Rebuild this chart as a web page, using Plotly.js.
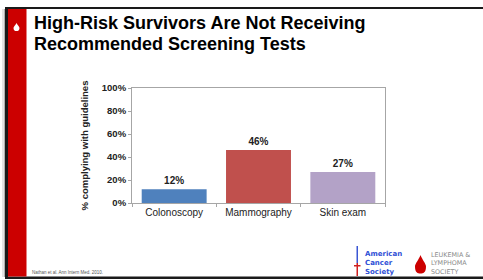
<!DOCTYPE html>
<html>
<head>
<meta charset="utf-8">
<script src="https://cdn.plot.ly/plotly-3.0.1.min.js"></script>
<style>
html,body{margin:0;padding:0;background:#fff;}
#chart{width:483px;height:280px;}
</style>
</head>
<body>
<div id="chart"></div>
<script>
// ---- data ----
const categories = ["Colonoscopy", "Mammography", "Skin exam"];
const complying = [12, 46, 27];
const barColors = ["#4F81BD", "#C0504D", "#B3A2C7"];
const yTickVals = [0, 20, 40, 60, 80, 100];
const yTickText = ["0%", "20%", "40%", "60%", "80%", "100%"];
const titleLines = ["High-Risk Survivors Are Not Receiving", "Recommended Screening Tests"];
const yTitle = "% complying with guidelines";
const footnote = "Nathan et al. Ann Intern Med. 2010.";
const acsLines = ["American", "Cancer", "Society"];
const llsLines = ["LEUKEMIA &amp;", "LYMPHOMA", "SOCIETY"];

// ---- geometry helpers (pixel -> paper) ----
const W = 483, H = 280, L = 132, R = 98, T = 88, B = 77;
const PW = W - L - R, PH = H - T - B;
const fx = x => (x - L) / PW;
const fy = y => 1 - (y - T) / PH;
function path(cmds) {
  return cmds.map(c => {
    if (typeof c === 'string') return c;
    return fx(c[0]).toFixed(5) + ',' + fy(c[1]).toFixed(5);
  }).join(' ');
}
function rect(x0, y0, x1, y1, color) {
  return {type: 'rect', xref: 'paper', yref: 'paper', x0: fx(x0), x1: fx(x1), y0: fy(y1), y1: fy(y0),
          fillcolor: color, line: {width: 0}, layer: 'above'};
}
function drop(cx, top, bot, hw, color) {
  const m = top + (bot - top) * 0.62;
  return {type: 'path', xref: 'paper', yref: 'paper', fillcolor: color, line: {width: 0}, layer: 'above',
    path: path(['M', [cx, top], 'C', [cx + hw * 0.3, top + (bot - top) * 0.25], [cx + hw, m - (bot - top) * 0.15], [cx + hw, m],
                'C', [cx + hw, bot - (bot - top) * 0.05], [cx + hw * 0.5, bot], [cx, bot],
                'C', [cx - hw * 0.5, bot], [cx - hw, bot - (bot - top) * 0.05], [cx - hw, m],
                'C', [cx - hw, m - (bot - top) * 0.15], [cx - hw * 0.3, top + (bot - top) * 0.25], [cx, top], 'Z'])};
}

const FONT = "Liberation Sans, Arial, sans-serif";

const shapes = [
  // frame shadow
  rect(2, 9, 5, 277, '#e4e4e4'),
  rect(4, 9, 6, 277, '#b0b0b0'),
  // frame lines
  rect(5, 7, 483, 9, '#1a1a1a'),
  rect(5, 7, 8, 279, '#1a1a1a'),
  rect(5, 276.5, 483, 279, '#1a1a1a'),
  // red side bar
  rect(8, 9, 26.5, 276.5, '#cc0000'),
  // white drop on bar
  drop(16.5, 23, 31, 3, '#ffffff'),
  // ACS sword
  rect(356.5, 246, 358, 263, '#3a56d4'),
  rect(356.5, 263, 358, 276, '#d02020'),
  rect(354, 265, 360.5, 266.5, '#d02020'),
  // LLS drop
  drop(420.5, 255, 273.5, 5.5, '#cc0000')
];

const annotations = [
  {text: titleLines[0], x: fx(33), y: fy(23.5), xanchor: 'left', yanchor: 'middle'},
  {text: titleLines[1], x: fx(33), y: fy(44.5), xanchor: 'left', yanchor: 'middle'}
].map(a => Object.assign(a, {xref: 'paper', yref: 'paper', showarrow: false, borderpad: 0,
  font: {family: FONT, size: 18, color: '#000', weight: 'bold'}}));

annotations.push({text: footnote, xref: 'paper', yref: 'paper', x: fx(30), y: fy(272), xanchor: 'left', yanchor: 'middle',
  showarrow: false, font: {family: FONT, size: 4.5, color: '#555'}});

annotations.push({text: acsLines.join('<br>'), xref: 'paper', yref: 'paper', x: fx(363.5), y: fy(262.5),
  xanchor: 'left', yanchor: 'middle', align: 'left', showarrow: false, borderpad: 0,
  font: {family: "DejaVu Sans, sans-serif", size: 7, color: '#2f4fd6', weight: 'bold'}});
annotations.push({text: llsLines.join('<br>'), xref: 'paper', yref: 'paper', x: fx(429.5), y: fy(263),
  xanchor: 'left', yanchor: 'middle', align: 'left', showarrow: false, borderpad: 0,
  font: {family: "DejaVu Sans, sans-serif", size: 6.4, color: '#8a8a8a'}});

const trace = {
  type: 'bar',
  x: categories,
  y: complying,
  text: complying.map(v => v + '%'),
  textposition: 'outside',
  cliponaxis: false,
  textfont: {family: FONT, size: 10, color: '#222', weight: 'bold'},
  marker: {color: barColors, line: {width: 0}},
  width: 0.77,
  hoverinfo: 'skip'
};

const layout = {
  width: W, height: H,
  margin: {l: L, r: R, t: T, b: B, pad: 0},
  paper_bgcolor: '#ffffff',
  plot_bgcolor: '#ffffff',
  showlegend: false,
  font: {family: FONT},
  xaxis: {
    type: 'category',
    showline: true, mirror: true, linecolor: '#a6a6a6', linewidth: 1,
    ticks: 'outside', tickson: 'boundaries', ticklen: 3, tickcolor: '#a6a6a6',
    showgrid: false, zeroline: false,
    tickfont: {family: FONT, size: 10, color: '#222'},
    fixedrange: true
  },
  yaxis: {
    range: [0, 100],
    tickmode: 'array',
    tickvals: yTickVals,
    ticktext: yTickText,
    showline: true, mirror: true, linecolor: '#a6a6a6', linewidth: 1,
    ticks: 'outside', ticklen: 3, tickcolor: '#a6a6a6',
    showgrid: false, zeroline: false,
    tickfont: {family: FONT, size: 9.5, color: '#222', weight: 'bold'},
    title: {text: yTitle, standoff: 11, font: {family: FONT, size: 9.5, color: '#222', weight: 'bold'}},
    fixedrange: true
  },
  shapes: shapes,
  annotations: annotations
};

Plotly.newPlot('chart', [trace], layout, {displayModeBar: false, staticPlot: true});
</script>
</body>
</html>
